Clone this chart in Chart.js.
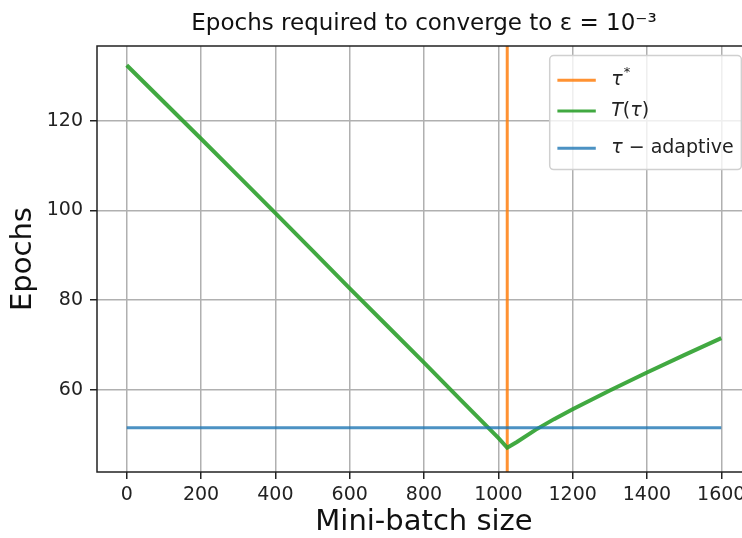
<!DOCTYPE html>
<html>
<head>
<meta charset="utf-8">
<script src="https://cdn.jsdelivr.net/npm/chart.js@4.4.1/dist/chart.umd.min.js"></script>
<style>
html,body{margin:0;padding:0;background:#fff;overflow:hidden;}
#wrap{width:742px;height:538px;overflow:hidden;}
canvas{display:block;}
</style>
</head>
<body>
<div id="wrap"><canvas id="chart" width="752" height="538"></canvas></div>
<script>
// valeurs
const batchSizes = [0,100,200,300,400,500,600,700,800,900,1000,1024,1050,1100,1150,1200,1300,1400,1500,1600];
const epochs = [132.4,124.2,116.0,107.7,99.4,91.0,82.6,74.3,66.0,57.6,49.2,47.0,48.3,51.0,53.4,55.6,59.8,63.8,67.7,71.5];
const tauStar = 1024;
const adaptiveEpochs = 51.5;
const adaptiveSpan = [0,1600];
const xTicks = [0,200,400,600,800,1000,1200,1400,1600];
const yTicks = [60,80,100,120];
const xRange = [-80,1680];
const yRange = [41.6,136.7];
const seriesLabels = ["τ*","T(τ)","τ − adaptive"];
const seriesColors = ["rgba(255,127,14,0.85)","rgba(44,160,44,0.9)","rgba(31,119,180,0.8)"];

Chart.defaults.font.family = '"DejaVu Sans"';
Chart.defaults.color = "#222";

function drawMath(ctx, text, x, y, size) {
  let cx = x;
  for (const ch of text) {
    if (ch === "*") {
      ctx.font = `${Math.round(size*0.7)}px "DejaVu Sans"`;
      ctx.fillText("*", cx + 1, y - size*0.38);
      cx += ctx.measureText("*").width + 1;
      continue;
    }
    const italic = /[Tτε]/.test(ch);
    ctx.font = `${italic ? "italic " : ""}${size}px "DejaVu Sans"`;
    ctx.fillText(ch, cx, y);
    cx += ctx.measureText(ch).width;
  }
  return cx - x;
}
function mathWidth(ctx, text, size) {
  ctx.save(); ctx.globalAlpha = 0;
  const w = drawMath(ctx, text, 0, 0, size);
  ctx.restore();
  return w;
}

const frameAndLegend = {
  id: "frameAndLegend",
  afterDatasetsDraw(chart) {
    const {ctx, chartArea: a} = chart;
    ctx.save();
    ctx.strokeStyle = "#222";
    ctx.lineWidth = 1.5;
    ctx.strokeRect(a.left, a.top, a.right - a.left, a.bottom - a.top);

    // légende dans le coin haut droit
    const fs = 19, pad = 7.7, handle = 38.4, gap = 15.4;
    const rows = [24.7, 55.3, 92.7];
    const maxW = Math.max(...chart.data.datasets.map(d => mathWidth(ctx, d.label, fs)));
    const w = pad*2 + handle + gap + maxW, h = 114;
    const right = a.right - 9.6, left = right - w, top = a.top + 9.6;
    ctx.beginPath();
    ctx.roundRect(left, top, w, h, 4);
    ctx.fillStyle = "rgba(255,255,255,0.8)";
    ctx.fill();
    ctx.strokeStyle = "#d0d0d0";
    ctx.lineWidth = 1.5;
    ctx.stroke();
    chart.data.datasets.forEach((d, i) => {
      const y = top + rows[i];
      ctx.strokeStyle = d.borderColor;
      ctx.lineWidth = 3;
      ctx.beginPath();
      ctx.moveTo(left + pad, y);
      ctx.lineTo(left + pad + handle, y);
      ctx.stroke();
      ctx.fillStyle = "#222";
      ctx.textBaseline = "middle";
      drawMath(ctx, d.label, left + pad + handle + gap, y, fs);
    });
    ctx.restore();
  }
};

new Chart(document.getElementById("chart"), {
  type: "scatter",
  data: {
    datasets: [
      {label: seriesLabels[0], data: [{x: tauStar, y: yRange[0]}, {x: tauStar, y: yRange[1]}],
       borderColor: seriesColors[0], borderWidth: 3, order: 3},
      {label: seriesLabels[1], data: batchSizes.map((b, i) => ({x: b, y: epochs[i]})),
       borderColor: seriesColors[1], borderWidth: 4, order: 2},
      {label: seriesLabels[2], data: adaptiveSpan.map(b => ({x: b, y: adaptiveEpochs})),
       borderColor: seriesColors[2], borderWidth: 3, order: 1}
    ].map(d => Object.assign(d, {showLine: true, pointRadius: 0, pointHoverRadius: 0, fill: false, tension: 0}))
  },
  options: {
    responsive: false,
    animation: false,
    events: [],
    layout: {padding: {left: 0, right: 1, top: 0, bottom: 0}},
    scales: {
      x: {
        type: "linear", min: xRange[0], max: xRange[1],
        afterBuildTicks: s => { s.ticks = xTicks.map(v => ({value: v})); },
        afterFit: s => { s.height = 66; },
        grid: {color: "#b0b0b0", lineWidth: 1.5, tickColor: "#222", tickLength: 7, tickWidth: 1.5},
        border: {display: false},
        ticks: {font: {size: 19}, padding: 5, maxRotation: 0, color: "#222", callback: v => String(v)},
        title: {display: true, text: "Mini-batch size", font: {size: 29}, color: "#111", padding: {top: 0, bottom: -2}}
      },
      y: {
        type: "linear", min: yRange[0], max: yRange[1],
        afterBuildTicks: s => { s.ticks = yTicks.map(v => ({value: v})); },
        afterFit: s => { s.width = 97; },
        grid: {color: "#b0b0b0", lineWidth: 1.5, tickColor: "#222", tickLength: 7, tickWidth: 1.5},
        border: {display: false},
        ticks: {font: {size: 19}, padding: 7, color: "#222", callback: v => String(v)},
        title: {display: true, text: "Epochs", font: {size: 29}, color: "#111", padding: {top: 6, bottom: 0}}
      }
    },
    plugins: {
      legend: {display: false},
      tooltip: {enabled: false},
      title: {
        display: true, fullSize: false,
        text: "Epochs required to converge to ε = 10⁻³",
        font: {size: 23, weight: "normal"}, color: "#111",
        padding: {top: 10.7, bottom: 7.7}
      }
    }
  },
  plugins: [frameAndLegend]
});
</script>
</body>
</html>
